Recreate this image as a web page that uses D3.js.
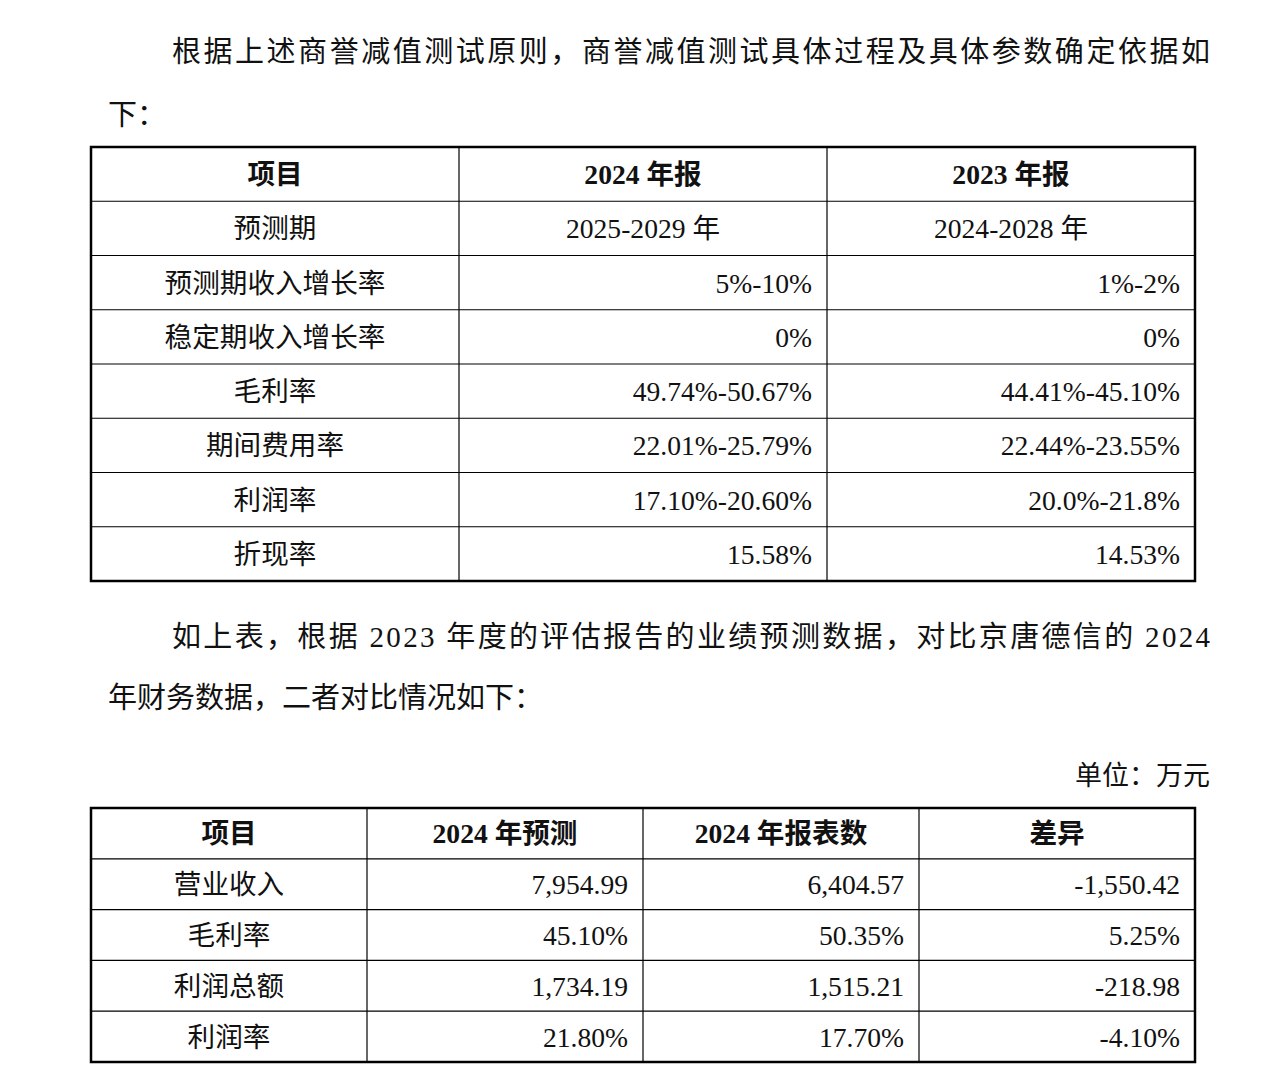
<!DOCTYPE html>
<html><head><meta charset="utf-8">
<script src="https://cdn.jsdelivr.net/npm/d3@7"></script>
<style>body{margin:0;background:#fff}</style>
</head><body>
<script>
"use strict";
// table 1
const t1Head = ["项目", "2024 年报", "2023 年报"];
const t1Items = ["预测期", "预测期收入增长率", "稳定期收入增长率", "毛利率", "期间费用率", "利润率", "折现率"];
const t1Y2024 = ["2025-2029 年", "5%-10%", "0%", "49.74%-50.67%", "22.01%-25.79%", "17.10%-20.60%", "15.58%"];
const t1Y2023 = ["2024-2028 年", "1%-2%", "0%", "44.41%-45.10%", "22.44%-23.55%", "20.0%-21.8%", "14.53%"];
// table 2
const t2Head = ["项目", "2024 年预测", "2024 年报表数", "差异"];
const t2Items = ["营业收入", "毛利率", "利润总额", "利润率"];
const t2Forecast = ["7,954.99", "45.10%", "1,734.19", "21.80%"];
const t2Report = ["6,404.57", "50.35%", "1,515.21", "17.70%"];
const t2Diff = ["-1,550.42", "5.25%", "-218.98", "-4.10%"];

const W = 1273, H = 1075;
const font = "'Liberation Serif','Noto Sans CJK SC',serif";
const svg = d3.select("body").append("svg").attr("width", W).attr("height", H);

function para(x, y, txt, len) {
	let t = svg.append("text").attr("x", x).attr("y", y).attr("font-family", font)
		.attr("font-size", 29).attr("fill", "#111").text(txt);
	if (len) t.attr("textLength", len).attr("lengthAdjust", "spacing");
}
para(172, 62, "根据上述商誉减值测试原则，商誉减值测试具体过程及具体参数确定依据如", 1038);
para(108, 125, "下：");
para(172, 647, "如上表，根据 2023 年度的评估报告的业绩预测数据，对比京唐德信的 2024", 1038);
para(108, 708, "年财务数据，二者对比情况如下：");
svg.append("text").attr("x", 1210).attr("y", 785).attr("text-anchor", "end")
	.attr("font-family", font).attr("font-size", 27).attr("fill", "#111").text("单位：万元");

function table(x0, x1, y0, y1, head, cols, align) {
	let nRows = cols[0].length + 1;
	let xs = d3.scaleBand().domain(d3.range(head.length)).range([x0, x1]);
	let ys = d3.scaleBand().domain(d3.range(nRows)).range([y0, y1]);
	let g = svg.append("g");
	// inner lines
	for (let i = 1; i < head.length; i++)
		g.append("line").attr("x1", xs(i)).attr("x2", xs(i)).attr("y1", y0).attr("y2", y1)
			.attr("stroke", "#000").attr("stroke-width", 1.2);
	for (let j = 1; j < nRows; j++)
		g.append("line").attr("x1", x0).attr("x2", x1).attr("y1", ys(j)).attr("y2", ys(j))
			.attr("stroke", "#000").attr("stroke-width", 1.2);
	g.append("rect").attr("x", x0).attr("y", y0).attr("width", x1 - x0).attr("height", y1 - y0)
		.attr("fill", "none").attr("stroke", "#000").attr("stroke-width", 2.5);
	let txt = (c, r, s, bold) => {
		let right = !bold && align(c, r);
		g.append("text")
			.attr("x", right ? xs(c) + xs.bandwidth() - 15 : xs(c) + xs.bandwidth() / 2)
			.attr("y", ys(r) + ys.bandwidth() / 2 + 10)
			.attr("text-anchor", right ? "end" : "middle")
			.attr("font-family", font).attr("font-size", 27.6)
			.attr("font-weight", bold ? "bold" : "normal").attr("fill", "#111").text(s);
	};
	head.forEach((h, c) => txt(c, 0, h, true));
	cols.forEach((col, c) => col.forEach((v, r) => txt(c, r + 1, v, false)));
}
table(91, 1195, 147, 581, t1Head, [t1Items, t1Y2024, t1Y2023], (c, r) => c > 0 && r > 1);
table(91, 1195, 808, 1062, t2Head, [t2Items, t2Forecast, t2Report, t2Diff], (c, r) => c > 0);
</script>
</body></html>
